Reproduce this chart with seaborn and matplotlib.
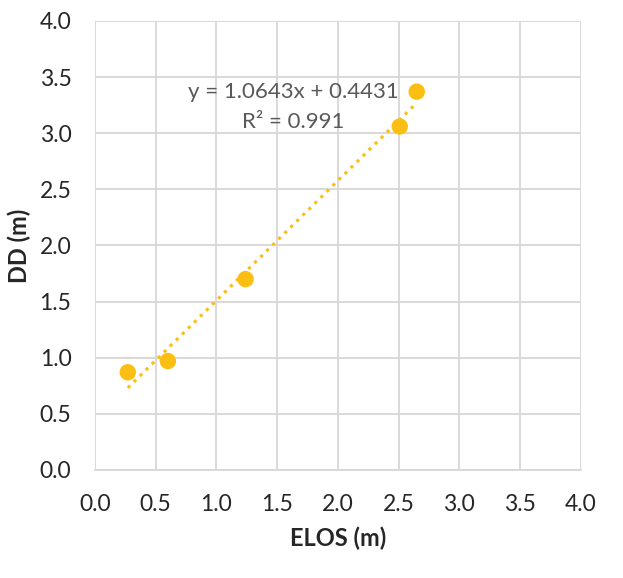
import matplotlib
matplotlib.use("Agg")
import matplotlib.pyplot as plt
import seaborn as sns
import pandas as pd

# data
elos = [0.27, 0.60, 1.24, 2.51, 2.65]
dd = [0.87, 0.97, 1.70, 3.06, 3.37]
ticks = [0.0, 0.5, 1.0, 1.5, 2.0, 2.5, 3.0, 3.5, 4.0]
eq_text = "y = 1.0643x + 0.4431"
r2_text = "R\u00b2 = 0.991"

df = pd.DataFrame({"ELOS (m)": elos, "DD (m)": dd})

sns.set_style("white")
plt.rcParams["font.family"] = ["Lato", "DejaVu Sans"]

point_color = "#FBBF14"
grid_color = "#D9D6D6"

fig = plt.figure(figsize=(6.23, 5.78), dpi=100)
ax = fig.add_axes([0.1525, 0.187, 0.7795, 0.7767])

# dotted linear trendline
sns.regplot(data=df, x="ELOS (m)", y="DD (m)", ax=ax, scatter=False, ci=None,
            color=point_color, line_kws=dict(linestyle=":", linewidth=2.3, zorder=3))
sns.scatterplot(data=df, x="ELOS (m)", y="DD (m)", ax=ax, color=point_color,
                s=140, edgecolor="none", zorder=4)

ax.set_xlim(0, 4)
ax.set_ylim(0, 4)
ax.set_xticks(ticks)
ax.set_yticks(ticks)
ax.set_xticklabels([f"{t:.1f}" for t in ticks])
ax.set_yticklabels([f"{t:.1f}" for t in ticks])
ax.tick_params(axis="x", length=0, pad=17, labelsize=16.5, labelcolor="#262626")
ax.tick_params(axis="y", length=0, pad=17, labelsize=16.5, labelcolor="#262626")
ax.grid(True, color=grid_color, linewidth=1.3)
ax.set_axisbelow(True)
for side in ["top", "right", "left"]:
    ax.spines[side].set_visible(False)
ax.spines["bottom"].set_color(grid_color)
ax.spines["bottom"].set_linewidth(1.3)

ax.set_xlabel("ELOS (m)", fontsize=17, fontweight="bold", color="#262626", labelpad=9)
ax.set_ylabel("DD (m)", fontsize=17, fontweight="bold", color="#262626", labelpad=6)

ax.text(1.63, 3.37, eq_text, ha="center", va="center", fontsize=16, color="#595959")
ax.text(1.63, 3.10, r2_text, ha="center", va="center", fontsize=16, color="#595959")

fig.savefig("out.png", dpi=100, facecolor="white")
